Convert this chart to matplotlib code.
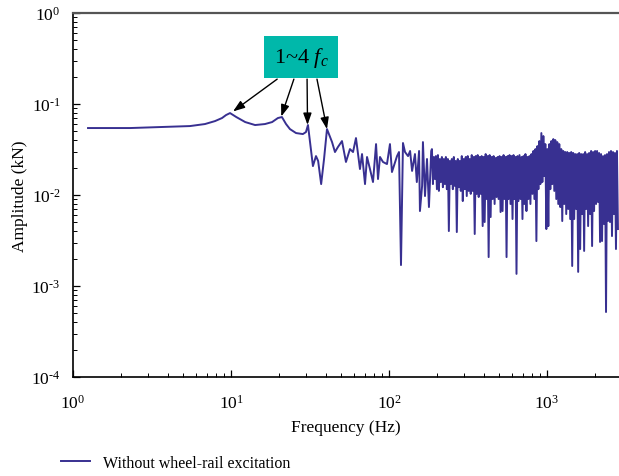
import numpy as np
import matplotlib
matplotlib.use("Agg")
import matplotlib.pyplot as plt
from matplotlib.ticker import LogLocator, FuncFormatter, NullFormatter

# =========================
# 기본 설정
# =========================
plt.rcParams['font.family'] = ['Liberation Serif', 'DejaVu Serif']
plt.rcParams['mathtext.fontset'] = 'custom'
plt.rcParams['mathtext.rm'] = 'Liberation Serif'
plt.rcParams['mathtext.it'] = 'Liberation Serif:italic'

LINE_COLOR = "#383091"
BOX_COLOR = "#00b8aa"

# =========================
# 저주파 구간 (개별 점)
# =========================
low_freq = [1.244, 2.30, 3.55, 5.50, 6.84, 7.92, 8.77, 9.30, 9.86, 10.8,
            12.3, 14.2, 16.4, 18.2, 19.8, 21.0, 22.3, 23.6, 25.8, 28.5,
            29.8, 30.7, 33.0, 34.5, 35.6, 37.2, 38.8, 40.5, 43.6, 45.5,
            47.5, 50.4, 53.4, 56.6, 59.2, 61.8, 65.5, 67.5, 70.5, 72.6,
            75.8, 79.2, 82.8, 85.2, 87.7, 91.6, 97.1, 101.4, 104.4, 112.4,
            115.7, 119.1, 122.6, 126.3, 132, 136, 140, 146, 150, 155,
            157, 162, 164, 169, 174, 179, 185]
low_amp = [0.0545, 0.0545, 0.0559, 0.0573, 0.0603, 0.0650, 0.0702, 0.0757, 0.0796, 0.0720,
           0.0634, 0.0588, 0.0603, 0.0634, 0.0702, 0.0720, 0.0603, 0.0531, 0.0480, 0.0468,
           0.0492, 0.0588, 0.0208, 0.0268, 0.0237, 0.0132, 0.0249, 0.0531, 0.0382, 0.0297,
           0.0337, 0.0392, 0.0231, 0.0320, 0.0297, 0.0423, 0.0193, 0.0282, 0.0132, 0.0262,
           0.0193, 0.0139, 0.0363, 0.0150, 0.0262, 0.0231, 0.0219, 0.0363, 0.0179, 0.0268,
           0.0297, 0.0017, 0.0373, 0.0297, 0.0268, 0.0305, 0.0184, 0.0282, 0.0139, 0.0305,
           0.00667, 0.0126, 0.0382, 0.00975, 0.0249, 0.00738, 0.0305]

# =========================
# 고주파 구간 (밴드 상단 / 하단)
# =========================
band_lo, band_hi = 187, 2814
band_top = [0.0320, 0.0262, 0.0268, 0.0275, 0.0249, 0.0262, 0.0249, 0.0262, 0.0249, 0.0237,
            0.0249, 0.0262, 0.0237, 0.0249, 0.0237, 0.0268, 0.0249, 0.0262, 0.0268, 0.0249,
            0.0275, 0.0262, 0.0268, 0.0275, 0.0262, 0.0268, 0.0262, 0.0282, 0.0268, 0.0275,
            0.0262, 0.0268, 0.0255, 0.0262, 0.0268, 0.0262, 0.0275, 0.0262, 0.0268, 0.0275,
            0.0268, 0.0275, 0.0262, 0.0268, 0.0275, 0.0262, 0.0268, 0.0282, 0.0262, 0.0268,
            0.0282, 0.0305, 0.0320, 0.0345, 0.0392, 0.0480, 0.0445, 0.0363, 0.0320, 0.0363,
            0.0392, 0.0412, 0.0402, 0.0382, 0.0363, 0.0320, 0.0305, 0.0297, 0.0297, 0.0290,
            0.0297, 0.0290, 0.0282, 0.0282, 0.0290, 0.0282, 0.0282, 0.0297, 0.0282, 0.0290,
            0.0305, 0.0297, 0.0305, 0.0305, 0.0290, 0.0282, 0.0268, 0.0275, 0.0282, 0.0297,
            0.0305, 0.0297, 0.0290, 0.0305]
band_bottom = [0.0132, 0.0150, 0.0116, 0.0111, 0.0139, 0.0122, 0.0132, 0.0116, 0.00402, 0.0132,
               0.0116, 0.0126, 0.00392, 0.0122, 0.0111, 0.00859, 0.0116, 0.00975, 0.0111, 0.0103,
               0.0111, 0.00373, 0.0103, 0.00951, 0.0103, 0.00456, 0.00505, 0.00904, 0.00208, 0.00573,
               0.00904, 0.00797, 0.00951, 0.00904, 0.00650, 0.00667, 0.00904, 0.00208, 0.00904, 0.00797,
               0.00545, 0.00904, 0.00136, 0.00859, 0.00904, 0.00545, 0.00797, 0.00667, 0.00904, 0.00797,
               0.0103, 0.00904, 0.00312, 0.0116, 0.0132, 0.0139, 0.0162, 0.00423, 0.00456, 0.0116,
               0.0132, 0.0111, 0.00904, 0.00797, 0.00738, 0.00518, 0.00797, 0.00618, 0.00702, 0.00545,
               0.00166, 0.00545, 0.00702, 0.00143, 0.00255, 0.00618, 0.00243, 0.00702, 0.00456, 0.00618,
               0.00275, 0.00667, 0.00797, 0.00838, 0.00305, 0.00312, 0.00480, 0.000518, 0.00518, 0.00505,
               0.00354, 0.00618, 0.00255, 0.00423]

# 상단/하단 값을 번갈아 이어서 밴드 형태로
band_amp = np.ravel(np.column_stack([band_top, band_bottom]))
band_freq = np.geomspace(band_lo, band_hi, len(band_amp))

freq = np.concatenate([low_freq, band_freq])
amp = np.concatenate([low_amp, band_amp])


def decade_label(v, pos):
    e = int(round(np.log10(v)))
    if e < 0:
        return r"$10^{\text{-}%d}$" % (-e)
    return r"$10^{%d}$" % e


# =========================
# 그래프
# =========================
fig = plt.figure(figsize=(6.19, 4.77), dpi=100)
ax = fig.add_axes([0.118, 0.2075, 0.882, 0.763])

line, = ax.plot(freq, amp, color=LINE_COLOR, linewidth=1.4,
                label="Without wheel-rail excitation")

ax.set_xscale("log")
ax.set_yscale("log")
ax.set_xlim(1, 2857)
ax.set_ylim(1e-4, 1)

for a in (ax.xaxis, ax.yaxis):
    a.set_major_locator(LogLocator(base=10, numticks=10))
    a.set_minor_locator(LogLocator(base=10, subs=np.arange(2, 10), numticks=10))
    a.set_major_formatter(FuncFormatter(decade_label))
    a.set_minor_formatter(NullFormatter())

ax.tick_params(which="both", direction="in", top=False, right=False, labelsize=12.5)
ax.tick_params(which="major", length=5, width=0.9)
ax.tick_params(which="minor", length=3, width=0.7)
ax.tick_params(axis="x", pad=12)
ax.tick_params(axis="y", pad=9)
ax.spines["right"].set_visible(False)
ax.spines["top"].set_color("#555555")
ax.spines["top"].set_linewidth(1.6)
ax.spines["left"].set_linewidth(1.2)
ax.spines["bottom"].set_linewidth(1.2)

ax.set_xlabel("Frequency (Hz)", fontsize=12.5, labelpad=5)
ax.set_ylabel("Amplitude (kN)", fontsize=12.5, labelpad=2)

# 1~4 f_c 표시
ax.text(27.7, 0.328, r"1~4 $f_c$", fontsize=16, ha="center", va="center",
        bbox=dict(boxstyle="square,pad=0.42", facecolor=BOX_COLOR, edgecolor="none"))

arrow_from = [(19.6, 0.188), (25.0, 0.188), (30.3, 0.188), (35.0, 0.188)]
arrow_to = [(10.3, 0.083), (20.8, 0.073), (30.5, 0.059), (40.5, 0.053)]
for (x0, y0), (x1, y1) in zip(arrow_from, arrow_to):
    ax.annotate("", xy=(x1, y1), xytext=(x0, y0),
                arrowprops=dict(arrowstyle="-|>,head_length=0.7,head_width=0.25",
                                color="black", lw=1.0, shrinkA=0, shrinkB=0))

fig.legend(handles=[line], loc="center left",
           bbox_to_anchor=(61 / 619, 1 - 464 / 477),
           frameon=False, fontsize=11.5, handlelength=1.8, handletextpad=0.8,
           borderpad=0, borderaxespad=0)

fig.savefig("out.png", dpi=100)
